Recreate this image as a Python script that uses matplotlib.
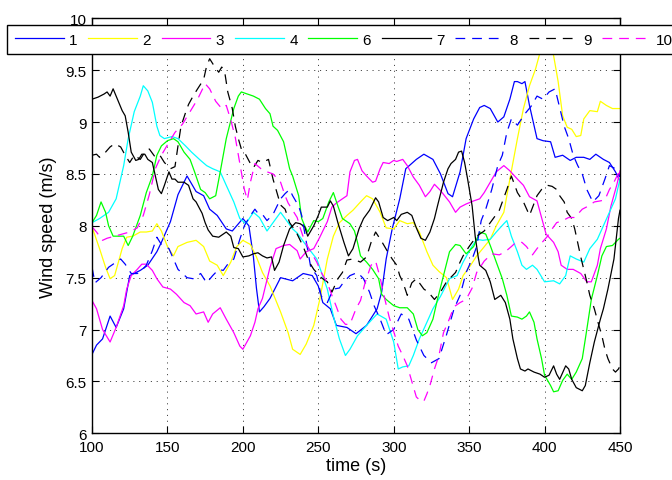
import numpy as np
import matplotlib
matplotlib.use("Agg")
import matplotlib.pyplot as plt
from matplotlib.ticker import FuncFormatter

plt.rcParams.update({"font.family": ["Liberation Sans", "DejaVu Sans"],
                     "font.size": 10.5, "lines.scale_dashes": False})

# turbine 1 (blue)
t1 = [100, 103, 107, 112, 116, 121, 125, 132, 137, 143, 146, 152, 157, 163, 169, 174, 178, 183,
      189, 193, 200, 204, 207, 209, 211, 214, 218, 225, 233, 240, 246, 250, 253, 258, 262, 269,
      275, 282, 289, 292, 295, 299, 304, 308, 315, 320, 326, 331, 336, 339, 344, 348, 353, 357,
      360, 364, 369, 373, 377, 380, 382, 385, 387, 390, 395, 399, 404, 407, 412, 417, 421, 426,
      430, 434, 439, 443, 447, 450]
v1 = [6.76, 6.85, 6.91, 7.13, 7.02, 7.2, 7.52, 7.57, 7.62, 7.75, 7.84, 8.04, 8.3, 8.48, 8.33,
      8.29, 8.16, 8.10, 7.97, 7.95, 8.07, 8.0, 7.7, 7.4, 7.17, 7.22, 7.3, 7.5, 7.47, 7.54, 7.52,
      7.42, 7.26, 7.2, 7.04, 7.02, 6.96, 7.04, 7.2, 7.36, 7.68, 7.97, 8.26, 8.55, 8.64, 8.69, 8.64,
      8.5, 8.31, 8.28, 8.52, 8.84, 9.03, 9.14, 9.16, 9.13, 9.0, 9.05, 9.22, 9.39, 9.39, 9.37, 9.39,
      9.16, 8.84, 8.82, 8.81, 8.66, 8.68, 8.63, 8.66, 8.66, 8.64, 8.69, 8.64, 8.61, 8.52, 8.43]

# turbine 2 (yellow)
t2 = [100, 105, 109, 112, 115, 120, 123, 127, 132, 136, 140, 143, 146, 150, 154, 157, 163, 169,
      174, 178, 183, 187, 192, 196, 200, 205, 209, 213, 218, 225, 230, 233, 238, 242, 247, 251,
      256, 260, 264, 269, 273, 278, 282, 286, 291, 295, 300, 304, 309, 313, 317, 322, 326, 330,
      335, 339, 343, 346, 351, 355, 359, 364, 368, 373, 377, 382, 386, 390, 394, 397, 399, 402,
      406, 409, 412, 415, 418, 421, 424, 426, 430, 435, 437, 441, 445, 450]
v2 = [7.99, 7.78, 7.6, 7.49, 7.52, 7.78, 7.89, 7.9, 7.94, 7.94, 7.95, 8.02, 7.95, 7.8, 7.71, 7.8,
      7.84, 7.86, 7.8, 7.66, 7.62, 7.52, 7.65, 7.8, 7.86, 7.82, 7.7, 7.55, 7.42, 7.17, 6.97, 6.81,
      6.76, 6.86, 7.04, 7.29, 7.68, 7.9, 8.03, 8.1, 8.15, 8.23, 8.29, 8.26, 8.13, 7.98, 7.97, 8.05,
      8.02, 8.03, 7.94, 7.75, 7.62, 7.56, 7.5, 7.29, 7.39, 7.52, 7.62, 7.71, 7.78, 7.87, 8.0, 8.13,
      8.45, 8.84, 9.13, 9.35, 9.51, 9.67, 9.74, 9.85, 9.64, 9.39, 9.06, 8.95, 8.93, 8.86, 8.87,
      9.03, 9.11, 9.1, 9.2, 9.16, 9.13, 9.13]

# turbine 3 (magenta)
t3 = [100, 103, 107, 112, 116, 121, 123, 126, 130, 133, 136, 140, 143, 147, 152, 156, 161, 165,
      169, 174, 177, 180, 185, 189, 194, 198, 200, 205, 208, 210, 213, 215, 218, 222, 227, 231,
      236, 238, 242, 247, 251, 256, 259, 262, 264, 269, 271, 274, 276, 279, 282, 286, 288, 291,
      293, 297, 300, 302, 306, 309, 313, 317, 321, 324, 327, 331, 337, 341, 344, 348, 353, 357,
      360, 364, 368, 373, 377, 382, 386, 390, 395, 398, 401, 406, 409, 411, 415, 419, 424, 428,
      431, 435, 437, 441, 444, 448, 450]
v3 = [7.28, 7.2, 7.0, 6.88, 7.02, 7.23, 7.39, 7.52, 7.58, 7.63, 7.63, 7.57, 7.49, 7.41, 7.39,
      7.34, 7.26, 7.23, 7.15, 7.17, 7.07, 7.15, 7.21, 7.1, 6.97, 6.84, 6.81, 6.94, 7.07, 7.2, 7.3,
      7.42, 7.6, 7.78, 7.81, 7.82, 7.76, 7.68, 7.75, 7.78, 7.89, 8.04, 8.18, 8.22, 8.24, 8.29, 8.52,
      8.63, 8.64, 8.53, 8.48, 8.42, 8.43, 8.55, 8.61, 8.6, 8.63, 8.62, 8.64, 8.58, 8.47, 8.39, 8.28,
      8.33, 8.4, 8.34, 8.23, 8.13, 8.18, 8.21, 8.24, 8.26, 8.32, 8.42, 8.52, 8.58, 8.53, 8.45, 8.39,
      8.28, 8.24, 8.08, 7.92, 7.84, 7.75, 7.62, 7.58, 7.58, 7.54, 7.46, 7.46, 7.62, 7.78, 7.97,
      8.19, 8.4, 8.53]

# turbine 4 (cyan)
t4 = [100, 105, 111, 116, 121, 124, 128, 132, 134, 137, 140, 143, 145, 148, 153, 157, 162, 166,
      172, 176, 180, 185, 189, 194, 198, 202, 207, 211, 216, 220, 225, 229, 233, 236, 242, 249,
      256, 260, 264, 268, 271, 276, 282, 289, 295, 300, 303, 306, 310, 313, 317, 322, 326, 331,
      337, 342, 346, 351, 355, 359, 364, 368, 373, 375, 378, 382, 385, 388, 392, 395, 400, 406,
      410, 414, 417, 421, 426, 430, 435, 439, 443, 447, 450]
v4 = [8.03, 8.07, 8.13, 8.26, 8.58, 8.84, 9.1, 9.25, 9.35, 9.3, 9.19, 8.96, 8.87, 8.84, 8.86,
      8.84, 8.77, 8.71, 8.63, 8.58, 8.55, 8.52, 8.39, 8.23, 8.07, 8.02, 8.13, 8.08, 7.95, 8.03,
      8.13, 8.05, 7.97, 7.93, 7.81, 7.68, 7.39, 7.13, 6.91, 6.75, 6.81, 6.94, 7.04, 7.15, 7.1,
      6.88, 6.62, 6.64, 6.65, 6.75, 6.91, 7.07, 7.2, 7.32, 7.49, 7.52, 7.65, 7.78, 7.87, 7.86,
      7.87, 7.94, 8.02, 8.05, 7.9, 7.75, 7.62, 7.58, 7.62, 7.58, 7.46, 7.47, 7.44, 7.52, 7.71,
      7.68, 7.65, 7.78, 7.87, 8.0, 8.13, 8.26, 8.45]

# turbine 6 (green)
t6 = [100, 103, 106, 109, 111, 114, 117, 121, 124, 127, 132, 136, 140, 143, 146, 150, 154, 157,
      161, 165, 168, 172, 175, 178, 182, 185, 189, 194, 197, 199, 203, 207, 211, 215, 218, 220,
      223, 227, 231, 233, 237, 239, 241, 243, 247, 250, 253, 257, 260, 263, 266, 271, 274, 276,
      278, 282, 286, 290, 292, 295, 300, 304, 309, 313, 316, 319, 322, 326, 329, 333, 337, 341,
      344, 348, 353, 357, 361, 364, 368, 372, 375, 378, 382, 385, 388, 390, 393, 395, 398, 400,
      404, 406, 409, 412, 415, 418, 421, 425, 428, 431, 435, 438, 441, 445, 449, 450]
v6 = [8.03, 8.1, 8.23, 8.13, 8.0, 7.9, 7.9, 7.9, 7.81, 7.9, 8.1, 8.32, 8.48, 8.68, 8.77, 8.82,
      8.84, 8.81, 8.71, 8.64, 8.52, 8.35, 8.32, 8.26, 8.29, 8.52, 8.84, 9.13, 9.25, 9.29, 9.27,
      9.25, 9.22, 9.13, 9.08, 8.96, 8.92, 8.81, 8.55, 8.48, 8.29, 8.07, 8.0, 7.94, 8.05, 8.04,
      8.07, 8.23, 8.32, 8.19, 8.07, 8.02, 7.95, 7.84, 7.71, 7.65, 7.58, 7.49, 7.34, 7.29, 7.23,
      7.21, 7.21, 7.15, 7.0, 6.94, 6.97, 7.1, 7.29, 7.52, 7.75, 7.82, 7.81, 7.73, 7.8, 7.94, 7.92,
      7.81, 7.65, 7.49, 7.33, 7.13, 7.12, 7.1, 7.13, 7.17, 7.07, 6.91, 6.72, 6.56, 6.46, 6.4,
      6.41, 6.51, 6.57, 6.52, 6.59, 6.72, 7.0, 7.29, 7.52, 7.71, 7.8, 7.81, 7.87, 7.88]

# turbine 7 (black)
t7 = [100, 104, 108, 110, 112, 114, 116, 120, 122, 124, 126, 129, 131, 133, 135, 137, 140, 142,
      144, 146, 148, 151, 153, 155, 157, 161, 164, 167, 169, 173, 175, 177, 180, 184, 187, 189,
      192, 194, 197, 200, 204, 207, 210, 213, 216, 219, 221, 224, 227, 231, 235, 238, 241, 243,
      247, 250, 252, 256, 258, 260, 263, 267, 270, 273, 277, 280, 284, 288, 290, 293, 296, 300,
      302, 305, 309, 312, 315, 318, 321, 324, 327, 329, 333, 336, 338, 341, 343, 345, 347, 349,
      352, 354, 356, 357, 361, 364, 367, 371, 374, 377, 379, 382, 384, 387, 389, 393, 397, 400,
      403, 406, 408, 410, 414, 416, 418, 421, 425, 427, 430, 433, 437, 439, 442, 446, 449, 450]
v7 = [9.22, 9.24, 9.27, 9.29, 9.25, 9.32, 9.25, 9.11, 9.06, 8.9, 8.71, 8.63, 8.64, 8.69, 8.69,
      8.64, 8.61, 8.48, 8.35, 8.31, 8.39, 8.52, 8.45, 8.45, 8.42, 8.42, 8.39, 8.26, 8.23, 8.12,
      8.03, 7.96, 7.9, 7.89, 7.92, 7.94, 7.9, 7.79, 7.78, 7.7, 7.71, 7.73, 7.74, 7.71, 7.69, 7.7,
      7.57, 7.65, 7.81, 7.97, 8.03, 8.02, 7.99, 7.9, 8.0, 8.1, 8.18, 8.18, 8.24, 8.19, 8.03, 7.84,
      7.71, 7.78, 7.97, 8.07, 8.15, 8.27, 8.23, 8.08, 8.05, 8.08, 8.05, 8.11, 8.13, 8.1, 7.98,
      7.88, 7.86, 7.94, 8.07, 8.19, 8.42, 8.55, 8.6, 8.64, 8.71, 8.72, 8.61, 8.45, 8.19, 7.9,
      7.7, 7.62, 7.57, 7.46, 7.29, 7.33, 7.26, 7.1, 6.91, 6.72, 6.62, 6.6, 6.62, 6.59, 6.57,
      6.54, 6.56, 6.65, 6.57, 6.52, 6.65, 6.62, 6.52, 6.44, 6.41, 6.46, 6.68, 6.88, 7.1, 7.2,
      7.39, 7.68, 8.07, 8.15]

# turbine 8 (blue, dashed)
t8 = [100, 102, 106, 111, 114, 119, 122, 126, 130, 133, 136, 140, 143, 146, 151, 157, 163, 167,
      172, 176, 180, 184, 187, 190, 194, 198, 201, 205, 208, 210, 213, 216, 220, 225, 228, 231,
      233, 237, 239, 242, 245, 249, 252, 256, 260, 264, 267, 271, 276, 280, 284, 287, 291, 295,
      300, 305, 310, 315, 320, 325, 330, 335, 340, 344, 348, 352, 355, 358, 361, 365, 369, 372,
      375, 378, 382, 387, 391, 395, 399, 403, 407, 410, 413, 416, 419, 422, 425, 428, 432, 436,
      440, 443, 447, 450]
v8 = [7.6, 7.45, 7.5, 7.6, 7.63, 7.68, 7.63, 7.54, 7.54, 7.57, 7.62, 7.76, 7.89, 7.82, 7.78,
      7.58, 7.5, 7.49, 7.54, 7.45, 7.52, 7.58, 7.57, 7.63, 7.68, 7.87, 8.0, 8.1, 8.16, 8.12, 8.11,
      8.05, 8.11, 8.26, 8.31, 8.35, 8.29, 8.19, 8.1, 7.85, 7.6, 7.52, 7.32, 7.26, 7.39, 7.4, 7.46,
      7.52, 7.55, 7.49, 7.36, 7.23, 7.1, 6.95, 7.0, 7.15, 7.1, 6.9, 6.75, 6.68, 6.72, 6.95, 7.2,
      7.33, 7.55, 7.68, 7.8, 8.05, 8.16, 8.35, 8.58, 8.68, 8.9, 9.03, 8.97, 9.08, 9.15, 9.25,
      9.22, 9.29, 9.32, 9.14, 8.96, 8.84, 8.68, 8.58, 8.5, 8.35, 8.23, 8.29, 8.45, 8.58, 8.55,
      8.47]

# turbine 9 (black, dashed)
t9 = [100, 103, 105, 109, 112, 115, 119, 122, 125, 128, 132, 135, 138, 142, 145, 148, 152, 155,
      157, 159, 162, 164, 167, 170, 174, 176, 178, 181, 184, 186, 188, 190, 193, 195, 197, 199,
      201, 205, 207, 210, 213, 217, 220, 222, 225, 228, 231, 235, 240, 244, 247, 252, 256, 259,
      263, 266, 269, 273, 278, 282, 285, 288, 292, 296, 299, 302, 304, 306, 309, 312, 315, 320,
      323, 327, 331, 335, 341, 344, 346, 350, 355, 360, 365, 370, 375, 378, 382, 386, 390, 395,
      398, 402, 405, 408, 410, 413, 415, 418, 420, 424, 428, 430, 433, 436, 438, 440, 442, 445,
      447, 449, 450]
v9 = [8.68, 8.69, 8.66, 8.71, 8.76, 8.79, 8.76, 8.68, 8.61, 8.68, 8.64, 8.71, 8.74, 8.66, 8.68,
      8.61, 8.55, 8.57, 8.77, 8.96, 9.09, 9.17, 9.25, 9.32, 9.41, 9.54, 9.61, 9.54, 9.48, 9.53,
      9.48, 9.29, 9.13, 8.96, 8.84, 8.74, 8.71, 8.6, 8.56, 8.63, 8.61, 8.64, 8.45, 8.35, 8.2,
      8.16, 8.03, 7.95, 7.8, 7.65, 7.58, 7.5, 7.46, 7.36, 7.49, 7.55, 7.67, 7.68, 7.65, 7.7, 7.84,
      7.94, 7.85, 7.75, 7.68, 7.62, 7.52, 7.46, 7.33, 7.45, 7.49, 7.39, 7.36, 7.29, 7.36, 7.46,
      7.55, 7.65, 7.71, 7.8, 7.9, 7.95, 8.05, 8.15, 8.35, 8.48, 8.32, 8.23, 8.1, 8.29, 8.35, 8.39,
      8.38, 8.35, 8.29, 8.23, 8.13, 8.07, 7.97, 7.7, 7.46, 7.33, 7.2, 7.04, 6.94, 6.81, 6.72,
      6.62, 6.59, 6.62, 6.65]

# turbine 10 (magenta, dashed)
t10 = [100, 103, 107, 110, 115, 120, 125, 130, 134, 138, 142, 146, 150, 155, 160, 165, 170, 175,
       178, 182, 186, 189, 192, 195, 198, 201, 203, 205, 208, 212, 216, 220, 225, 228, 230, 233,
       236, 238, 241, 245, 249, 252, 256, 259, 262, 265, 268, 271, 275, 278, 281, 285, 288, 291,
       294, 297, 300, 303, 306, 309, 312, 315, 318, 320, 322, 324, 327, 330, 333, 336, 340, 344,
       348, 352, 355, 360, 365, 370, 374, 378, 381, 385, 388, 392, 395, 399, 402, 405, 408, 412,
       416, 420, 425, 429, 433, 437, 440, 443, 446, 448, 450]
v10 = [7.99, 7.94, 7.86, 7.88, 7.9, 7.92, 7.94, 7.98, 8.1, 8.3, 8.55, 8.68, 8.78, 8.9, 8.98,
       9.1, 9.22, 9.37, 9.32, 9.2, 9.13, 9.16, 9.02, 8.85, 8.6, 8.35, 8.25, 8.42, 8.6, 8.55,
       8.52, 8.5, 8.42, 8.29, 8.22, 8.15, 8.08, 7.98, 7.85, 7.75, 7.65, 7.55, 7.45, 7.33, 7.22,
       7.1, 7.05, 7.05, 7.2, 7.28, 7.45, 7.62, 7.66, 7.5, 7.3, 7.12, 6.98, 6.84, 6.75, 6.65, 6.5,
       6.35, 6.31, 6.31, 6.38, 6.46, 6.62, 6.75, 6.97, 7.07, 7.22, 7.26, 7.29, 7.4, 7.55, 7.66,
       7.73, 7.72, 7.75, 7.8, 7.84, 7.84, 7.8, 7.72, 7.78, 7.85, 7.9, 7.97, 8.03, 8.05, 8.08,
       8.08, 8.16, 8.19, 8.23, 8.24, 8.25, 8.35, 8.42, 8.48, 8.53]

series = [(t1, v1, "#0000ff", False, "1"), (t2, v2, "#ffff00", False, "2"),
          (t3, v3, "#ff00ff", False, "3"), (t4, v4, "#00ffff", False, "4"),
          (t6, v6, "#00ff00", False, "6"), (t7, v7, "#000000", False, "7"),
          (t8, v8, "#0000ff", True, "8"), (t9, v9, "#000000", True, "9"),
          (t10, v10, "#ff00ff", True, "10")]

fig = plt.figure(figsize=(6.72, 4.81), dpi=100)
ax = fig.add_axes([0.1369, 0.0971, 0.7857, 0.8628])
for t, v, col, dashed, lab in series:
    kw = {"dashes": (7, 5)} if dashed else {}
    ax.plot(t, v, color=col, lw=0.9, label=lab, **kw)

ax.set_xlim(100, 450); ax.set_ylim(6, 10)
ax.set_xticks(np.arange(100, 451, 50)); ax.set_yticks(np.arange(6, 10.01, 0.5))
ax.yaxis.set_major_formatter(FuncFormatter(lambda y, _: f"{y:g}"))
ax.tick_params(direction="in", top=True, right=True, length=5, width=0.8, labelsize=11)
ax.tick_params(axis="x", pad=5); ax.tick_params(axis="y", pad=4)
ax.grid(True, color="0.15", lw=0.6, linestyle=(0, (0.8, 3.4)))
for sp in ax.spines.values():
    sp.set_linewidth(1.0)
ax.set_xlabel("time (s)", fontsize=13, labelpad=2)
ax.set_ylabel("Wind speed (m/s)", fontsize=13, labelpad=6)

# horizontal legend strip running across the top of the axes
leg = fig.legend(loc="upper left", bbox_to_anchor=(7/672, 1 - 26/481), borderaxespad=0,
                 ncol=9, fontsize=11, handlelength=3.2, handletextpad=0.35,
                 columnspacing=0.7, borderpad=0.5, fancybox=False, framealpha=1,
                 edgecolor="black")
leg.get_frame().set_linewidth(1.0)

fig.savefig("out.png", dpi=100)
